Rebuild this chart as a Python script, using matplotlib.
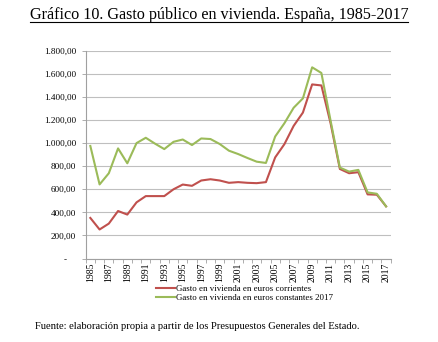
import numpy as np
import matplotlib.pyplot as plt
from matplotlib.lines import Line2D
from matplotlib.ticker import FuncFormatter

plt.rcParams['font.family'] = ['Liberation Serif', 'DejaVu Serif']

# Datos
anios = list(range(1985, 2018))
corrientes = [352, 252, 303, 412, 381, 487, 541, 541, 541, 600, 641, 630, 676,
              687, 676, 656, 662, 656, 653, 662, 876, 991, 1149, 1264, 1508, 1499,
              1170, 776, 739, 748, 556, 553, 452]
constantes = [975, 642, 739, 954, 825, 1000, 1046, 995, 948, 1011, 1031, 983, 1040,
              1035, 992, 934, 905, 871, 839, 828, 1057, 1172, 1306, 1387, 1656, 1607,
              1192, 788, 753, 768, 573, 561, 452]

rojo = "#C0504D"
verde = "#9BBB59"

fig = plt.figure(figsize=(4.38, 3.42), dpi=100)
ax = fig.add_axes([0.1957, 0.2439, 0.892 - 0.1957, 0.8518 - 0.2439])

x = np.arange(len(anios))
l1, = ax.plot(x, corrientes, color=rojo, lw=1.5, label="Gasto en vivienda en euros corrientes")
l2, = ax.plot(x, constantes, color=verde, lw=1.5, label="Gasto en vivienda en euros constantes 2017")

ax.set_xlim(-0.5, len(anios) - 0.5)
ax.set_ylim(0, 1800)
ax.set_yticks(np.arange(0, 1801, 200))


def fmt(v, pos):
    if v == 0:
        return "-    "
    s = f"{v:,.2f}"
    return s.replace(",", "X").replace(".", ",").replace("X", ".")


ax.yaxis.set_major_formatter(FuncFormatter(fmt))
ax.grid(axis="y", color="#BFBFBF", lw=0.8)
ax.set_axisbelow(True)

ax.set_xticks(x[::2])
ax.set_xticklabels([str(a) for a in anios[::2]], rotation=90)
ax.set_xticks(np.arange(-0.5, len(anios), 1), minor=True)
ax.tick_params(axis="x", which="major", length=0, pad=3, labelsize=7)
ax.tick_params(axis="x", which="minor", length=3, color="#A0A0A0", width=0.6)
ax.tick_params(axis="y", length=3, color="#A0A0A0", width=0.6, labelsize=6.6, pad=4)

for s in ["top", "right"]:
    ax.spines[s].set_visible(False)
for s in ["left", "bottom"]:
    ax.spines[s].set_color("#A0A0A0")
    ax.spines[s].set_linewidth(0.8)

fig.legend(handles=[l1, l2], loc="upper left", bbox_to_anchor=(0.346, 0.181),
           frameon=False, fontsize=6.4, handlelength=2.1, handletextpad=0.1,
           labelspacing=0.15, borderpad=0)

titulo = fig.text(0.5, 0.955, "Gráfico 10. Gasto público en vivienda. España, 1985-2017",
                  ha="center", va="center", fontsize=11.6)
fig.text(0.08, 0.045, "Fuente: elaboración propia a partir de los Presupuestos Generales del Estado.",
         ha="left", va="center", fontsize=7.6)

# subrayado del título
fig.canvas.draw()
bb = titulo.get_window_extent().transformed(fig.transFigure.inverted())
fig.add_artist(Line2D([bb.x0, bb.x1], [bb.y0 + 0.004, bb.y0 + 0.004],
                      color="black", lw=0.8, transform=fig.transFigure))

fig.savefig("out.png", dpi=100)
